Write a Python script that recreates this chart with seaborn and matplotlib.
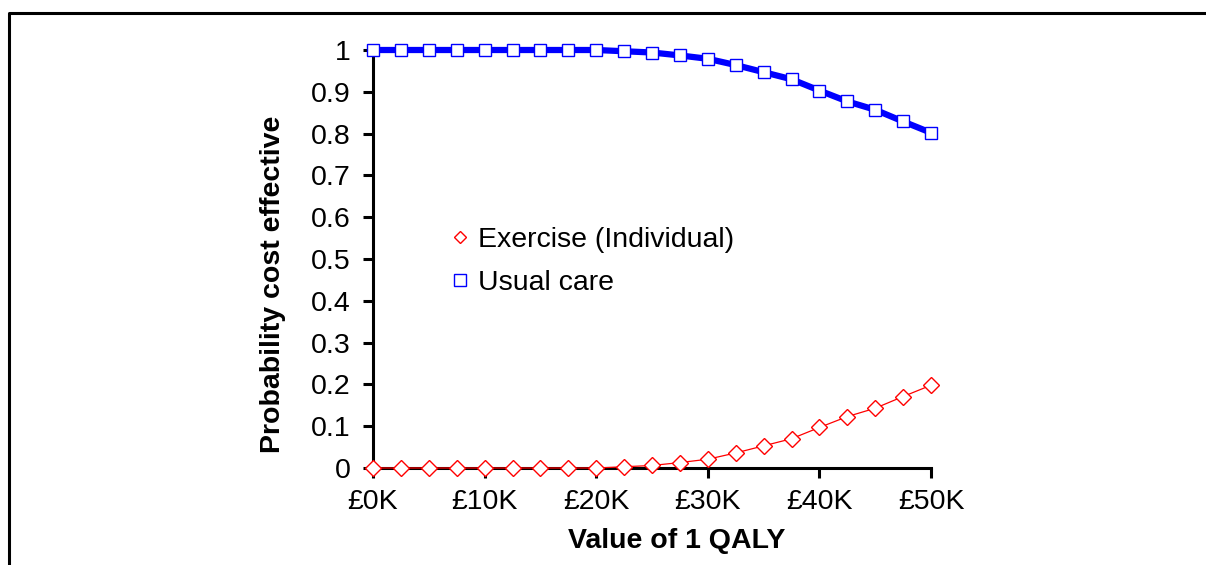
import matplotlib
matplotlib.use("Agg")
import matplotlib.pyplot as plt
from matplotlib.lines import Line2D
import seaborn as sns
import pandas as pd

wtp = [0, 2500, 5000, 7500, 10000, 12500, 15000, 17500, 20000, 22500, 25000,
       27500, 30000, 32500, 35000, 37500, 40000, 42500, 45000, 47500, 50000]
usual_care = [1.0, 1.0, 1.0, 1.0, 1.0, 1.0, 1.0, 1.0, 1.0, 0.997, 0.994,
              0.987, 0.979, 0.964, 0.947, 0.930, 0.903, 0.877, 0.857, 0.829, 0.802]
exercise = [0.0, 0.0, 0.0, 0.0, 0.0, 0.0, 0.0, 0.0, 0.0, 0.003, 0.006,
            0.013, 0.021, 0.036, 0.053, 0.070, 0.097, 0.123, 0.143, 0.171, 0.198]
series_names = ["Exercise (Individual)", "Usual care"]
x_ticks = [0, 10000, 20000, 30000, 40000, 50000]
x_tick_labels = ["£0K", "£10K", "£20K", "£30K", "£40K", "£50K"]
y_ticks = [0, 0.1, 0.2, 0.3, 0.4, 0.5, 0.6, 0.7, 0.8, 0.9, 1]
y_tick_labels = ["0", "0.1", "0.2", "0.3", "0.4", "0.5", "0.6", "0.7", "0.8", "0.9", "1"]

df = pd.DataFrame({"wtp": wtp, "usual": usual_care, "exercise": exercise})

sns.set_style("white")
plt.rcParams["font.family"] = ["Liberation Sans", "DejaVu Sans"]
plt.rcParams["text.color"] = "black"
fs = 20.5

fig = plt.figure(figsize=(12.06, 5.65), dpi=100)
ax = fig.add_axes([373 / 1206, 1 - 468 / 565, (931 - 373) / 1206, 418 / 565])

sns.lineplot(data=df, x="wtp", y="usual", ax=ax, color="#0000ff", linewidth=4.5,
             marker="s", markersize=9, markerfacecolor="white",
             markeredgecolor="#0000ff", markeredgewidth=1.0, clip_on=False, zorder=4)
sns.lineplot(data=df, x="wtp", y="exercise", ax=ax, color="#ff0000", linewidth=0.9,
             marker="D", markersize=8, markerfacecolor="white",
             markeredgecolor="#ff0000", markeredgewidth=1.0, clip_on=False, zorder=4)

ax.set_xlim(0, 50000)
ax.set_ylim(0, 1)
ax.set_xticks(x_ticks)
ax.set_xticklabels(x_tick_labels)
ax.set_yticks(y_ticks)
ax.set_yticklabels(y_tick_labels)
ax.tick_params(axis="both", direction="out", length=7, width=2.2, color="black",
               labelsize=fs, labelcolor="black", left=True, bottom=True)
ax.tick_params(axis="y", pad=9)
ax.tick_params(axis="x", pad=8)
for side in ["top", "right"]:
    ax.spines[side].set_visible(False)
for side in ["left", "bottom"]:
    ax.spines[side].set_linewidth(2.2)
    ax.spines[side].set_color("black")

ax.set_xlabel("Value of 1 QALY", fontsize=fs, fontweight="bold", va="center", color="black")
ax.set_ylabel("Probability cost effective", fontsize=fs, fontweight="bold", va="center",
              color="black")
ax.xaxis.set_label_coords((677 - 373) / 558, (468 - 541) / 418)
ax.yaxis.set_label_coords((273 - 373) / 558, (468 - 284) / 418)

handles = [
    Line2D([], [], linestyle="none", marker="D", markersize=6.5, markerfacecolor="white",
           markeredgecolor="#ff0000", markeredgewidth=1.0),
    Line2D([], [], linestyle="none", marker="s", markersize=8.5, markerfacecolor="white",
           markeredgecolor="#0000ff", markeredgewidth=1.0),
]
leg = ax.legend(handles, series_names, loc="center left",
                bbox_to_anchor=((437 - 373) / 558, (468 - 261.5) / 418),
                frameon=False, fontsize=fs, borderpad=0, handlelength=0.6,
                handletextpad=0.35, labelspacing=0.62)
for t in leg.get_texts():
    t.set_color("black")

fig.add_artist(Line2D([8.5 / 1206, 8.5 / 1206, 1], [0, 1 - 12.5 / 565, 1 - 12.5 / 565],
                      transform=fig.transFigure, color="black", linewidth=2.2))

fig.savefig("out.png", dpi=100, facecolor="white")
